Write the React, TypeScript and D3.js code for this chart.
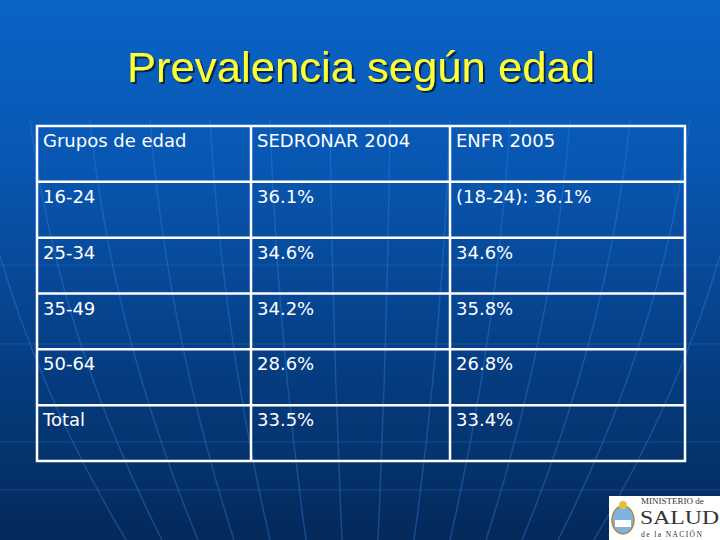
import React from "react";
import * as d3 from "d3";

const title = "Prevalencia según edad";
const headers = ["Grupos de edad", "SEDRONAR 2004", "ENFR 2005"];
const groups = ["16-24", "25-34", "35-49", "50-64", "Total"];
const sedronar = ["36.1%", "34.6%", "34.2%", "28.6%", "33.5%"];
const enfr = ["(18-24): 36.1%", "34.6%", "35.8%", "26.8%", "33.4%"];

const W = 720;
const H = 540;

export default function App() {
  const rows = [headers, ...groups.map((g, i) => [g, sedronar[i], enfr[i]])];
  const y = d3.scaleBand<number>().domain(d3.range(rows.length)).range([126, 461]);
  const colEdges = [37, 251, 450, 685];
  const x = d3.scaleOrdinal<number, number>().domain([0, 1, 2]).range(colEdges.slice(0, 3));

  // background globe-like meridians (decorative)
  const tops = d3.range(-30, 810, 60);
  const hLines = [265, 344, 442, 490];
  const meridian = (xt: number) => {
    const y0 = 120;
    const xb = 360 + (xt - 360) * 0.6;
    const xc = xt + (xb - xt) * 0.2;
    return `M${xt},${y0} Q${xc},${(y0 + H) / 2} ${xb},${H}`;
  };

  return (
    <svg width={W} height={H} style={{ position: "absolute", left: 0, top: 0, display: "block" }}>
      <defs>
        <linearGradient id="bg" x1="0" y1="0" x2="0" y2="1">
          <stop offset="0" stopColor="#0a63c6" />
          <stop offset="0.3" stopColor="#0857b2" />
          <stop offset="0.65" stopColor="#063f85" />
          <stop offset="1" stopColor="#04295a" />
        </linearGradient>
        <filter id="sh" x="-5%" y="-5%" width="110%" height="120%">
          <feDropShadow dx="2" dy="2" stdDeviation="0.6" floodColor="#000" floodOpacity="0.6" />
        </filter>
      </defs>
      <rect width={W} height={H} fill="url(#bg)" />
      <g fill="none" strokeWidth={1.5}>
        {tops.map((t, i) => (
          <path key={i} d={meridian(t)} stroke="#2f80e0" strokeOpacity={0.38} />
        ))}
        {hLines.map((h, i) => (
          <line key={"h" + i} x1={0} y1={h} x2={W} y2={h} stroke="#2f80e0" strokeOpacity={0.22} />
        ))}
      </g>
      <text
        x={361}
        y={82}
        textAnchor="middle"
        fontFamily="'Liberation Sans', Arial, sans-serif"
        fontSize={42}
        fill="#ffff33"
        textLength={468}
        lengthAdjust="spacingAndGlyphs"
        filter="url(#sh)"
      >
        {title}
      </text>
      <g fontFamily="'DejaVu Sans', Verdana, sans-serif" fontSize={18} fill="#ffffff">
        {rows.map((row, ri) =>
          row.map((cell, ci) => (
            <text key={ri + "-" + ci} x={(x(ci) as number) + 6} y={(y(ri) as number) + 21}>
              {cell}
            </text>
          ))
        )}
      </g>
      <g stroke="#ffffff" strokeWidth={2.5} fill="none">
        <rect x={colEdges[0]} y={126} width={colEdges[3] - colEdges[0]} height={461 - 126} />
        {d3.range(1, rows.length).map((i) => (
          <line key={"r" + i} x1={colEdges[0]} x2={colEdges[3]} y1={y(i) as number} y2={y(i) as number} />
        ))}
        {[1, 2].map((i) => (
          <line key={"c" + i} x1={colEdges[i]} x2={colEdges[i]} y1={126} y2={461} />
        ))}
      </g>
      <g>
        <rect x={609} y={496} width={111} height={44} fill="#ffffff" />
        <ellipse cx={623} cy={520} rx={11} ry={14} fill="#7fb2e0" stroke="#b08a3a" strokeWidth={1.5} />
        <circle cx={623} cy={505} r={4} fill="#e8c040" />
        <rect x={615} y={520} width={16} height={7} fill="#ffffff" />
        <text x={641} y={504} fontFamily="'Liberation Serif', serif" fontSize={9} fill="#333">
          MINISTERIO de
        </text>
        <text x={640} y={524} fontFamily="'Liberation Serif', serif" fontSize={19} fill="#333" textLength={79} lengthAdjust="spacingAndGlyphs">
          SALUD
        </text>
        <text x={641} y={537} fontFamily="'Liberation Serif', serif" fontSize={7.5} fill="#333" letterSpacing={1.4}>
          de la NACIÓN
        </text>
      </g>
    </svg>
  );
}
